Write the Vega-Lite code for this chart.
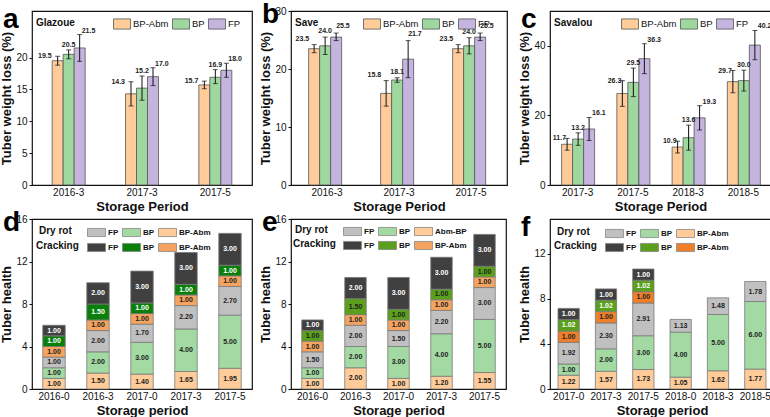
{
"$schema":"https://vega.github.io/schema/vega-lite/v6.json",
"background":"white",
"padding":0,
"autosize":{"type":"pad"},
"config":{
 "font":"Liberation Sans",
 "view":{"stroke":"#111","strokeWidth":1.2},
 "axis":{"labelFont":"Liberation Sans","titleFont":"Liberation Sans","labelFontSize":10,"titleFontSize":13,"titleFontWeight":"bold","labelColor":"#111","titleColor":"#111","domain":false,"tickColor":"#111","tickSize":3,"grid":false},
 "axisX":{"ticks":false,"labelAngle":0,"labelPadding":2,"titlePadding":3},
 "axisY":{"titlePadding":2,"labelPadding":2},
 "legend":{"labelFont":"Liberation Sans","titleFont":"Liberation Sans","titleFontWeight":"bold","labelColor":"#111","titleColor":"#111","padding":0,"direction":"horizontal","titleOrient":"left","columnPadding":1,"labelOffset":2,"gridAlign":"none"},
 "title":{"fontSize":28,"fontWeight":"bold","font":"Liberation Sans","anchor":"start","frame":"group","dx":-29,"offset":-23,"baseline":"top","color":"black"},
 "text":{"font":"Liberation Sans"}
},
"columns":3,
"spacing":{"row":34,"column":35},
"bounds":"flush",
"align":"all",
"resolve":{"scale":{"color":"independent"},"legend":{"color":"independent"}},
"concat":[
 {"width":220,"height":174,"title":{"text":"a"},
  "data":{"values":[
   {"p":"2016-3","t":"BP-Abm","v":19.5,"lo":18.8,"hi":20.2},
   {"p":"2016-3","t":"BP","v":20.5,"lo":19.8,"hi":21.2},
   {"p":"2016-3","t":"FP","v":21.5,"lo":19.4,"hi":23.6},
   {"p":"2017-3","t":"BP-Abm","v":14.3,"lo":12.4,"hi":16.2},
   {"p":"2017-3","t":"BP","v":15.2,"lo":13.3,"hi":17.1},
   {"p":"2017-3","t":"FP","v":17.0,"lo":15.6,"hi":18.4},
   {"p":"2017-5","t":"BP-Abm","v":15.7,"lo":15.1,"hi":16.3},
   {"p":"2017-5","t":"BP","v":16.9,"lo":15.9,"hi":18.1},
   {"p":"2017-5","t":"FP","v":18.0,"lo":16.9,"hi":19.1}
  ]},
  "encoding":{
   "x":{"field":"p","type":"nominal","sort":null,"title":"Storage Period","scale":{"paddingInner":0.55,"paddingOuter":0.275}},
   "xOffset":{"field":"t","type":"nominal","sort":["BP-Abm","BP","FP"]}
  },
  "layer":[
   {"mark":{"type":"bar","stroke":"#555","strokeWidth":0.8},
    "encoding":{
     "y":{"field":"v","type":"quantitative","title":"Tuber weight loss (%)","scale":{"domain":[0,27.3],"nice":false},"axis":{"values":[0,5,10,15,20]}},
     "color":{"field":"t","type":"nominal","scale":{"domain":["BP-Abm","BP","FP"],"range":["#ffcc99","#9fd89f","#c5b4de"]},
      "legend":{"title":"Glazoue","orient":"top-left","titlePadding":38,"offset":4,"symbolType":"M-1,-0.6H1V0.6H-1Z","symbolSize":289,"symbolStrokeColor":"#555","symbolStrokeWidth":0.8,"labelFontSize":9.5,"titleFontSize":10}}}},
   {"mark":{"type":"rule","color":"#111","strokeWidth":1},"encoding":{"y":{"field":"lo","type":"quantitative","scale":{"domain":[0,27.3],"nice":false}},"y2":{"field":"hi"}}},
   {"mark":{"type":"tick","color":"#111","size":5,"thickness":1},"encoding":{"y":{"field":"lo","type":"quantitative","scale":{"domain":[0,27.3],"nice":false}}}},
   {"mark":{"type":"tick","color":"#111","size":5,"thickness":1},"encoding":{"y":{"field":"hi","type":"quantitative","scale":{"domain":[0,27.3],"nice":false}}}},
   {"transform":[{"filter":"datum.t=='BP-Abm'"}],"mark":{"type":"text","fontSize":7,"fontWeight":"bold","align":"right","baseline":"middle","dx":-6,"color":"#222"},"encoding":{"y":{"field":"hi","type":"quantitative"},"text":{"field":"v","type":"quantitative","format":".1f"}}},
   {"transform":[{"filter":"datum.t=='BP'"}],"mark":{"type":"text","fontSize":7,"fontWeight":"bold","align":"center","baseline":"bottom","dy":-2,"color":"#222"},"encoding":{"y":{"field":"hi","type":"quantitative"},"text":{"field":"v","type":"quantitative","format":".1f"}}},
   {"transform":[{"filter":"datum.t=='FP'"}],"mark":{"type":"text","fontSize":7,"fontWeight":"bold","align":"left","baseline":"bottom","dx":2,"dy":-1,"color":"#222"},"encoding":{"y":{"field":"hi","type":"quantitative"},"text":{"field":"v","type":"quantitative","format":".1f"}}}
  ]},
 {"width":216,"height":174,"title":{"text":"b"},
  "data":{"values":[
   {"p":"2016-3","t":"BP-Abm","v":23.5,"lo":22.8,"hi":24.2},
   {"p":"2016-3","t":"BP","v":24.0,"lo":22.5,"hi":25.5},
   {"p":"2016-3","t":"FP","v":25.5,"lo":24.9,"hi":26.2},
   {"p":"2017-3","t":"BP-Abm","v":15.8,"lo":13.6,"hi":18.0},
   {"p":"2017-3","t":"BP","v":18.1,"lo":17.7,"hi":18.5},
   {"p":"2017-3","t":"FP","v":21.7,"lo":18.5,"hi":24.9},
   {"p":"2017-5","t":"BP-Abm","v":23.5,"lo":22.8,"hi":24.2},
   {"p":"2017-5","t":"BP","v":24.0,"lo":22.6,"hi":25.4},
   {"p":"2017-5","t":"FP","v":25.5,"lo":24.9,"hi":26.2}
  ]},
  "encoding":{
   "x":{"field":"p","type":"nominal","sort":null,"title":"Storage Period","scale":{"paddingInner":0.49,"paddingOuter":0.245}},
   "xOffset":{"field":"t","type":"nominal","sort":["BP-Abm","BP","FP"]}
  },
  "layer":[
   {"mark":{"type":"bar","stroke":"#555","strokeWidth":0.8},
    "encoding":{
     "y":{"field":"v","type":"quantitative","title":"Tuber weight loss (%)","scale":{"domain":[0,30],"nice":false},"axis":{"values":[0,5,10,15,20,25,30]}},
     "color":{"field":"t","type":"nominal","scale":{"domain":["BP-Abm","BP","FP"],"range":["#ffcc99","#9fd89f","#c5b4de"]},
      "legend":{"title":"Save","orient":"top-left","titlePadding":44,"offset":4,"symbolType":"M-1,-0.6H1V0.6H-1Z","symbolSize":289,"symbolStrokeColor":"#555","symbolStrokeWidth":0.8,"labelFontSize":9.5,"titleFontSize":10}}}},
   {"mark":{"type":"rule","color":"#111","strokeWidth":1},"encoding":{"y":{"field":"lo","type":"quantitative","scale":{"domain":[0,30],"nice":false}},"y2":{"field":"hi"}}},
   {"mark":{"type":"tick","color":"#111","size":5,"thickness":1},"encoding":{"y":{"field":"lo","type":"quantitative","scale":{"domain":[0,30],"nice":false}}}},
   {"mark":{"type":"tick","color":"#111","size":5,"thickness":1},"encoding":{"y":{"field":"hi","type":"quantitative","scale":{"domain":[0,30],"nice":false}}}},
   {"transform":[{"filter":"datum.t=='BP-Abm'"}],"mark":{"type":"text","fontSize":7,"fontWeight":"bold","align":"right","baseline":"bottom","dx":-5,"dy":-3,"color":"#222"},"encoding":{"y":{"field":"hi","type":"quantitative"},"text":{"field":"v","type":"quantitative","format":".1f"}}},
   {"transform":[{"filter":"datum.t=='BP'"}],"mark":{"type":"text","fontSize":7,"fontWeight":"bold","align":"center","baseline":"bottom","dy":-3,"color":"#222"},"encoding":{"y":{"field":"hi","type":"quantitative"},"text":{"field":"v","type":"quantitative","format":".1f"}}},
   {"transform":[{"filter":"datum.t=='FP'"}],"mark":{"type":"text","fontSize":7,"fontWeight":"bold","align":"left","baseline":"bottom","dx":0,"dy":-4,"color":"#222"},"encoding":{"y":{"field":"hi","type":"quantitative"},"text":{"field":"v","type":"quantitative","format":".1f"}}}
  ]},
 {"width":221,"height":174,"title":{"text":"c"},
  "data":{"values":[
   {"p":"2017-3","t":"BP-Abm","v":11.7,"lo":10.0,"hi":13.4},
   {"p":"2017-3","t":"BP","v":13.2,"lo":11.4,"hi":15.0},
   {"p":"2017-3","t":"FP","v":16.1,"lo":12.8,"hi":19.4},
   {"p":"2017-5","t":"BP-Abm","v":26.3,"lo":22.6,"hi":30.0},
   {"p":"2017-5","t":"BP","v":29.5,"lo":25.4,"hi":33.6},
   {"p":"2017-5","t":"FP","v":36.3,"lo":32.0,"hi":40.6},
   {"p":"2018-3","t":"BP-Abm","v":10.9,"lo":9.2,"hi":12.6},
   {"p":"2018-3","t":"BP","v":13.6,"lo":10.0,"hi":17.2},
   {"p":"2018-3","t":"FP","v":19.3,"lo":15.8,"hi":22.8},
   {"p":"2018-5","t":"BP-Abm","v":29.7,"lo":26.5,"hi":32.9},
   {"p":"2018-5","t":"BP","v":30.0,"lo":27.0,"hi":33.0},
   {"p":"2018-5","t":"FP","v":40.2,"lo":36.0,"hi":44.4}
  ]},
  "encoding":{
   "x":{"field":"p","type":"nominal","sort":null,"title":"Storage Period","scale":{"paddingInner":0.42,"paddingOuter":0.21}},
   "xOffset":{"field":"t","type":"nominal","sort":["BP-Abm","BP","FP"]}
  },
  "layer":[
   {"mark":{"type":"bar","stroke":"#555","strokeWidth":0.8},
    "encoding":{
     "y":{"field":"v","type":"quantitative","title":"Tuber weight loss (%)","scale":{"domain":[0,50],"nice":false},"axis":{"values":[0,10,20,30,40,50]}},
     "color":{"field":"t","type":"nominal","scale":{"domain":["BP-Abm","BP","FP"],"range":["#ffcc99","#9fd89f","#c5b4de"]},
      "legend":{"title":"Savalou","orient":"top-left","titlePadding":28,"offset":4,"symbolType":"M-1,-0.6H1V0.6H-1Z","symbolSize":289,"symbolStrokeColor":"#555","symbolStrokeWidth":0.8,"labelFontSize":9.5,"titleFontSize":10}}}},
   {"mark":{"type":"rule","color":"#111","strokeWidth":1},"encoding":{"y":{"field":"lo","type":"quantitative","scale":{"domain":[0,50],"nice":false}},"y2":{"field":"hi"}}},
   {"mark":{"type":"tick","color":"#111","size":5,"thickness":1},"encoding":{"y":{"field":"lo","type":"quantitative","scale":{"domain":[0,50],"nice":false}}}},
   {"mark":{"type":"tick","color":"#111","size":5,"thickness":1},"encoding":{"y":{"field":"hi","type":"quantitative","scale":{"domain":[0,50],"nice":false}}}},
   {"transform":[{"filter":"datum.t=='BP-Abm'"}],"mark":{"type":"text","fontSize":7,"fontWeight":"bold","align":"right","baseline":"middle","dx":-1,"color":"#222"},"encoding":{"y":{"field":"hi","type":"quantitative"},"text":{"field":"v","type":"quantitative","format":".1f"}}},
   {"transform":[{"filter":"datum.t=='BP'"}],"mark":{"type":"text","fontSize":7,"fontWeight":"bold","align":"center","baseline":"bottom","dy":-2,"color":"#222"},"encoding":{"y":{"field":"hi","type":"quantitative"},"text":{"field":"v","type":"quantitative","format":".1f"}}},
   {"transform":[{"filter":"datum.t=='FP'"}],"mark":{"type":"text","fontSize":7,"fontWeight":"bold","align":"left","baseline":"bottom","dx":3,"dy":-1,"color":"#222"},"encoding":{"y":{"field":"hi","type":"quantitative"},"text":{"field":"v","type":"quantitative","format":".1f"}}}
  ]},
 {"width":220,"height":170,"title":{"text":"d"},
  "data":{"values":[
   {"p":"2016-0","k":"Dry rot","t":"BP-Abm","v":1.00},{"p":"2016-0","k":"Dry rot","t":"BP","v":1.00},{"p":"2016-0","k":"Dry rot","t":"FP","v":1.00},{"p":"2016-0","k":"Cracking","t":"BP-Abm","v":1.00},{"p":"2016-0","k":"Cracking","t":"BP","v":1.00},{"p":"2016-0","k":"Cracking","t":"FP","v":1.00},
   {"p":"2016-3","k":"Dry rot","t":"BP-Abm","v":1.50},{"p":"2016-3","k":"Dry rot","t":"BP","v":2.00},{"p":"2016-3","k":"Dry rot","t":"FP","v":2.00},{"p":"2016-3","k":"Cracking","t":"BP-Abm","v":1.00},{"p":"2016-3","k":"Cracking","t":"BP","v":1.50},{"p":"2016-3","k":"Cracking","t":"FP","v":2.00},
   {"p":"2017-0","k":"Dry rot","t":"BP-Abm","v":1.40},{"p":"2017-0","k":"Dry rot","t":"BP","v":3.00},{"p":"2017-0","k":"Dry rot","t":"FP","v":1.70},{"p":"2017-0","k":"Cracking","t":"BP-Abm","v":1.00},{"p":"2017-0","k":"Cracking","t":"BP","v":1.00},{"p":"2017-0","k":"Cracking","t":"FP","v":3.00},
   {"p":"2017-3","k":"Dry rot","t":"BP-Abm","v":1.65},{"p":"2017-3","k":"Dry rot","t":"BP","v":4.00},{"p":"2017-3","k":"Dry rot","t":"FP","v":2.20},{"p":"2017-3","k":"Cracking","t":"BP-Abm","v":1.00},{"p":"2017-3","k":"Cracking","t":"BP","v":1.00},{"p":"2017-3","k":"Cracking","t":"FP","v":3.00},
   {"p":"2017-5","k":"Dry rot","t":"BP-Abm","v":1.95},{"p":"2017-5","k":"Dry rot","t":"BP","v":5.00},{"p":"2017-5","k":"Dry rot","t":"FP","v":2.70},{"p":"2017-5","k":"Cracking","t":"BP-Abm","v":1.00},{"p":"2017-5","k":"Cracking","t":"BP","v":1.00},{"p":"2017-5","k":"Cracking","t":"FP","v":3.00}
  ]},
  "transform":[{"stack":"v","groupby":["p"],"as":["y0","y1"]},{"calculate":"(datum.y0+datum.y1)/2","as":"ym"}],
  "encoding":{"x":{"field":"p","type":"nominal","sort":null,"title":"Storage period","scale":{"paddingInner":0.49,"paddingOuter":0.245}}},
  "layer":[
   {"transform":[{"filter":"datum.k=='Dry rot'"}],"mark":{"type":"bar","stroke":"#7a7a7a","strokeWidth":0.8},
    "encoding":{"y":{"field":"y0","type":"quantitative","title":"Tuber health","scale":{"domain":[0,16],"nice":false},"axis":{"values":[0,2,4,6,8,10,12,14,16]}},"y2":{"field":"y1"},
     "color":{"field":"t","type":"nominal","scale":{"domain":["FP","BP","BP-Abm"],"range":["#c0c0c0","#a3d9a3","#ffcc99"]},
      "legend":{"title":"Dry rot","orient":"none","legendX":7,"legendY":4,"titlePadding":15,"symbolType":"M-1,-0.45H1V0.45H-1Z","symbolSize":324,"symbolStrokeColor":"#888","symbolStrokeWidth":0.8,"labelFontSize":8,"labelFontWeight":"bold","titleFontSize":10}}}},
   {"transform":[{"filter":"datum.k=='Cracking'"}],"mark":{"type":"bar","stroke":"#7a7a7a","strokeWidth":0.8},
    "encoding":{"y":{"field":"y0","type":"quantitative","scale":{"domain":[0,16],"nice":false}},"y2":{"field":"y1"},
     "color":{"field":"t","type":"nominal","scale":{"domain":["FP","BP","BP-Abm"],"range":["#404040","#0a7f0a","#f4a460"]},
      "legend":{"title":"Cracking","orient":"none","legendX":4,"legendY":19,"titlePadding":8,"symbolType":"M-1,-0.45H1V0.45H-1Z","symbolSize":324,"symbolStrokeColor":"#888","symbolStrokeWidth":0.8,"labelFontSize":8,"labelFontWeight":"bold","titleFontSize":10}}}},
   {"mark":{"type":"text","fontSize":7,"fontWeight":"bold"},
    "encoding":{"y":{"field":"ym","type":"quantitative"},"text":{"field":"v","type":"quantitative","format":".2f"},
     "color":{"condition":{"test":"datum.k=='Cracking' && (datum.t=='FP' || datum.t=='BP')","value":"white"},"value":"#222"}}}
  ],
  "resolve":{"scale":{"color":"independent"}}},
 {"width":215,"height":170,"title":{"text":"e"},
  "data":{"values":[
   {"p":"2016-0","k":"Dry rot","t":"BP-Abm","v":1.00},{"p":"2016-0","k":"Dry rot","t":"BP","v":1.00},{"p":"2016-0","k":"Dry rot","t":"FP","v":1.50},{"p":"2016-0","k":"Cracking","t":"BP-Abm","v":1.00},{"p":"2016-0","k":"Cracking","t":"BP","v":1.00},{"p":"2016-0","k":"Cracking","t":"FP","v":1.00},
   {"p":"2016-3","k":"Dry rot","t":"BP-Abm","v":2.00},{"p":"2016-3","k":"Dry rot","t":"BP","v":2.00},{"p":"2016-3","k":"Dry rot","t":"FP","v":2.00},{"p":"2016-3","k":"Cracking","t":"BP-Abm","v":1.00},{"p":"2016-3","k":"Cracking","t":"BP","v":1.50},{"p":"2016-3","k":"Cracking","t":"FP","v":2.00},
   {"p":"2017-0","k":"Dry rot","t":"BP-Abm","v":1.00},{"p":"2017-0","k":"Dry rot","t":"BP","v":3.00},{"p":"2017-0","k":"Dry rot","t":"FP","v":1.50},{"p":"2017-0","k":"Cracking","t":"BP-Abm","v":1.00},{"p":"2017-0","k":"Cracking","t":"BP","v":1.00},{"p":"2017-0","k":"Cracking","t":"FP","v":3.00},
   {"p":"2017-3","k":"Dry rot","t":"BP-Abm","v":1.20},{"p":"2017-3","k":"Dry rot","t":"BP","v":4.00},{"p":"2017-3","k":"Dry rot","t":"FP","v":2.20},{"p":"2017-3","k":"Cracking","t":"BP-Abm","v":1.00},{"p":"2017-3","k":"Cracking","t":"BP","v":1.00},{"p":"2017-3","k":"Cracking","t":"FP","v":3.00},
   {"p":"2017-5","k":"Dry rot","t":"BP-Abm","v":1.55},{"p":"2017-5","k":"Dry rot","t":"BP","v":5.00},{"p":"2017-5","k":"Dry rot","t":"FP","v":3.00},{"p":"2017-5","k":"Cracking","t":"BP-Abm","v":1.00},{"p":"2017-5","k":"Cracking","t":"BP","v":1.00},{"p":"2017-5","k":"Cracking","t":"FP","v":3.00}
  ]},
  "transform":[{"stack":"v","groupby":["p"],"as":["y0","y1"]},{"calculate":"(datum.y0+datum.y1)/2","as":"ym"}],
  "encoding":{"x":{"field":"p","type":"nominal","sort":null,"title":"Storage period","scale":{"paddingInner":0.5,"paddingOuter":0.25}}},
  "layer":[
   {"transform":[{"filter":"datum.k=='Dry rot'"}],"mark":{"type":"bar","stroke":"#7a7a7a","strokeWidth":0.8},
    "encoding":{"y":{"field":"y0","type":"quantitative","title":"Tuber health","scale":{"domain":[0,16],"nice":false},"axis":{"values":[0,2,4,6,8,10,12,14,16]}},"y2":{"field":"y1"},
     "color":{"field":"t","type":"nominal","scale":{"domain":["FP","BP","BP-Abm"],"range":["#c0c0c0","#a3d9a3","#ffcc99"]},
      "legend":{"title":"Dry rot","orient":"none","legendX":4,"legendY":3,"titlePadding":15,"labelExpr":"datum.label=='BP-Abm' ? 'Abm-BP' : datum.label","symbolType":"M-1,-0.45H1V0.45H-1Z","symbolSize":324,"symbolStrokeColor":"#888","symbolStrokeWidth":0.8,"labelFontSize":8,"labelFontWeight":"bold","titleFontSize":10}}}},
   {"transform":[{"filter":"datum.k=='Cracking'"}],"mark":{"type":"bar","stroke":"#7a7a7a","strokeWidth":0.8},
    "encoding":{"y":{"field":"y0","type":"quantitative","scale":{"domain":[0,16],"nice":false}},"y2":{"field":"y1"},
     "color":{"field":"t","type":"nominal","scale":{"domain":["FP","BP","BP-Abm"],"range":["#404040","#5aa01c","#f4a460"]},
      "legend":{"title":"Cracking","orient":"none","legendX":2,"legendY":17,"titlePadding":7,"symbolType":"M-1,-0.45H1V0.45H-1Z","symbolSize":324,"symbolStrokeColor":"#888","symbolStrokeWidth":0.8,"labelFontSize":8,"labelFontWeight":"bold","titleFontSize":10}}}},
   {"mark":{"type":"text","fontSize":7,"fontWeight":"bold"},
    "encoding":{"y":{"field":"ym","type":"quantitative"},"text":{"field":"v","type":"quantitative","format":".2f"},
     "color":{"condition":{"test":"datum.k=='Cracking' && datum.t=='FP'","value":"white"},"value":"#222"}}}
  ],
  "resolve":{"scale":{"color":"independent"}}},
 {"width":224,"height":170,"title":{"text":"f"},
  "data":{"values":[
   {"p":"2017-0","k":"Dry rot","t":"BP-Abm","v":1.22},{"p":"2017-0","k":"Dry rot","t":"BP","v":1.00},{"p":"2017-0","k":"Dry rot","t":"FP","v":1.92},{"p":"2017-0","k":"Cracking","t":"BP-Abm","v":1.00},{"p":"2017-0","k":"Cracking","t":"BP","v":1.02},{"p":"2017-0","k":"Cracking","t":"FP","v":1.00},
   {"p":"2017-3","k":"Dry rot","t":"BP-Abm","v":1.57},{"p":"2017-3","k":"Dry rot","t":"BP","v":2.00},{"p":"2017-3","k":"Dry rot","t":"FP","v":2.30},{"p":"2017-3","k":"Cracking","t":"BP-Abm","v":1.00},{"p":"2017-3","k":"Cracking","t":"BP","v":1.02},{"p":"2017-3","k":"Cracking","t":"FP","v":1.00},
   {"p":"2017-5","k":"Dry rot","t":"BP-Abm","v":1.73},{"p":"2017-5","k":"Dry rot","t":"BP","v":3.00},{"p":"2017-5","k":"Dry rot","t":"FP","v":2.91},{"p":"2017-5","k":"Cracking","t":"BP-Abm","v":1.00},{"p":"2017-5","k":"Cracking","t":"BP","v":1.02},{"p":"2017-5","k":"Cracking","t":"FP","v":1.00},
   {"p":"2018-0","k":"Dry rot","t":"BP-Abm","v":1.05},{"p":"2018-0","k":"Dry rot","t":"BP","v":4.00},{"p":"2018-0","k":"Dry rot","t":"FP","v":1.13},
   {"p":"2018-3","k":"Dry rot","t":"BP-Abm","v":1.62},{"p":"2018-3","k":"Dry rot","t":"BP","v":5.00},{"p":"2018-3","k":"Dry rot","t":"FP","v":1.48},
   {"p":"2018-5","k":"Dry rot","t":"BP-Abm","v":1.77},{"p":"2018-5","k":"Dry rot","t":"BP","v":6.00},{"p":"2018-5","k":"Dry rot","t":"FP","v":1.78}
  ]},
  "transform":[{"stack":"v","groupby":["p"],"as":["y0","y1"]},{"calculate":"(datum.y0+datum.y1)/2","as":"ym"}],
  "encoding":{"x":{"field":"p","type":"nominal","sort":null,"title":"Storage period","scale":{"paddingInner":0.43,"paddingOuter":0.215}}},
  "layer":[
   {"transform":[{"filter":"datum.k=='Dry rot'"}],"mark":{"type":"bar","stroke":"#7a7a7a","strokeWidth":0.8},
    "encoding":{"y":{"field":"y0","type":"quantitative","title":"Tuber health","scale":{"domain":[0,15.1],"nice":false},"axis":{"values":[0,2,4,6,8,10,12,14]}},"y2":{"field":"y1"},
     "color":{"field":"t","type":"nominal","scale":{"domain":["FP","BP","BP-Abm"],"range":["#c0c0c0","#a3d9a3","#ffcc99"]},
      "legend":{"title":"Dry rot","orient":"none","legendX":7,"legendY":5,"titlePadding":15,"symbolType":"M-1,-0.45H1V0.45H-1Z","symbolSize":324,"symbolStrokeColor":"#888","symbolStrokeWidth":0.8,"labelFontSize":8,"labelFontWeight":"bold","titleFontSize":10}}}},
   {"transform":[{"filter":"datum.k=='Cracking'"}],"mark":{"type":"bar","stroke":"#7a7a7a","strokeWidth":0.8},
    "encoding":{"y":{"field":"y0","type":"quantitative","scale":{"domain":[0,15.1],"nice":false}},"y2":{"field":"y1"},
     "color":{"field":"t","type":"nominal","scale":{"domain":["FP","BP","BP-Abm"],"range":["#404040","#5aa01c","#f07f2a"]},
      "legend":{"title":"Cracking","orient":"none","legendX":4,"legendY":19,"titlePadding":8,"symbolType":"M-1,-0.45H1V0.45H-1Z","symbolSize":324,"symbolStrokeColor":"#888","symbolStrokeWidth":0.8,"labelFontSize":8,"labelFontWeight":"bold","titleFontSize":10}}}},
   {"mark":{"type":"text","fontSize":7,"fontWeight":"bold"},
    "encoding":{"y":{"field":"ym","type":"quantitative"},"text":{"field":"v","type":"quantitative","format":".2f"},
     "color":{"condition":{"test":"datum.k=='Cracking' && (datum.t=='FP' || datum.t=='BP')","value":"white"},"value":"#222"}}}
  ],
  "resolve":{"scale":{"color":"independent"}}}
]
}
